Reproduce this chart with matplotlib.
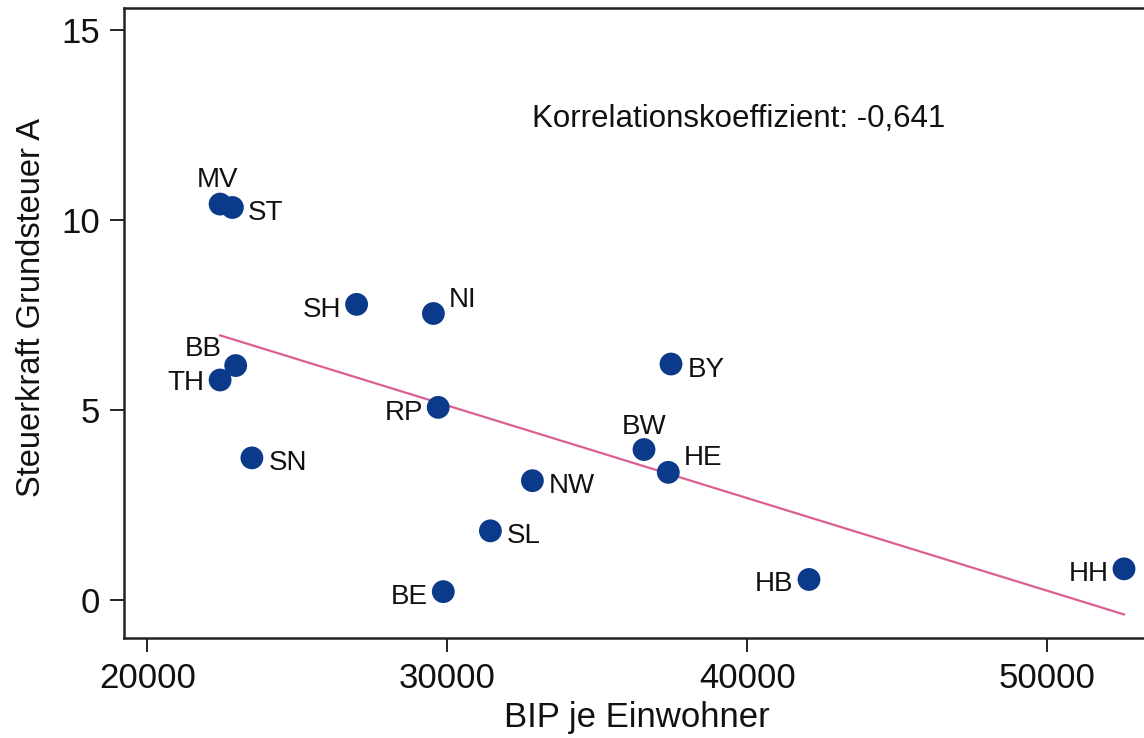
import numpy as np
import matplotlib
matplotlib.use("Agg")
import matplotlib.pyplot as plt

# ---- data ----
states = ["MV", "ST", "SH", "NI", "BB", "TH", "RP", "SN", "BY",
          "BW", "HE", "NW", "SL", "BE", "HB", "HH"]
bip = [22420, 22830, 26970, 29530, 22940, 22420, 29690, 23480, 37450,
       36550, 37360, 32830, 31430, 29860, 42050, 52550]
steuerkraft = [10.42, 10.33, 7.78, 7.54, 6.17, 5.79, 5.07, 3.74, 6.21,
               3.96, 3.36, 3.14, 1.82, 0.22, 0.54, 0.82]
# label offsets in points (dx, dy) and alignment
label_pos = {
    "MV": (-2, 17, "center"), "ST": (11, -4, "left"), "SH": (-11, -4, "right"),
    "NI": (11, 10, "left"), "BB": (-10, 12, "right"), "TH": (-11, -2, "right"),
    "RP": (-11, -4, "right"), "SN": (12, -4, "left"), "BY": (12, -4, "left"),
    "BW": (0, 16, "center"), "HE": (11, 10, "left"), "NW": (12, -4, "left"),
    "SL": (12, -4, "left"), "BE": (-11, -4, "right"), "HB": (-11, -3, "right"),
    "HH": (-11, -4, "right"),
}
xticks = [20000, 30000, 40000, 50000]
yticks = [0, 5, 10, 15]
corr_text = "Korrelationskoeffizient: -0,641"

plt.rcParams["font.family"] = ["Liberation Sans", "DejaVu Sans"]

W, H = 1144, 738
fig = plt.figure(figsize=(W / 100, H / 100), dpi=100)
# axes box in pixels: left 124, right 1150 (off-image), top 8, bottom 638
ax = fig.add_axes([124 / W, (H - 638) / H, 1026 / W, 630 / H])

x = np.array(bip, dtype=float)
y = np.array(steuerkraft, dtype=float)

# linear fit over data range
slope, icpt = np.polyfit(x, y, 1)
xs = np.array([x.min(), x.max()])
ax.plot(xs, icpt + slope * xs, color="#dc5f94", lw=1.6, zorder=2)

ax.scatter(x, y, s=270, color="#0b3a8a", edgecolors="none", zorder=3)

for name, xv, yv in zip(states, bip, steuerkraft):
    dx, dy, ha = label_pos[name]
    ax.annotate(name, (xv, yv), xytext=(dx, dy), textcoords="offset points",
                ha=ha, va="center", fontsize=20, color="#111111")

ax.text(0.3977, 0.824, corr_text, transform=ax.transAxes,
        ha="left", va="center", fontsize=22.5, color="#111111")

ax.set_xlim(19216.7, 19216.7 + 1026 / 300 * 10000)
ax.set_ylim(-1.0, 15.58)
ax.set_xticks(xticks)
ax.set_yticks(yticks)
ax.tick_params(direction="out", length=10, width=1.4, labelsize=25,
               color="#222222", labelcolor="#111111", pad=7)
for sp in ax.spines.values():
    sp.set_linewidth(1.8)
    sp.set_color("#222222")

ax.set_xlabel("BIP je Einwohner", fontsize=25, color="#111111")
ax.set_ylabel("Steuerkraft Grundsteuer A", fontsize=23.5, color="#111111")
ax.xaxis.set_label_coords(0.5, -0.1)
ax.yaxis.set_label_coords(-0.075, 0.524)

fig.savefig("out.png", dpi=100)
